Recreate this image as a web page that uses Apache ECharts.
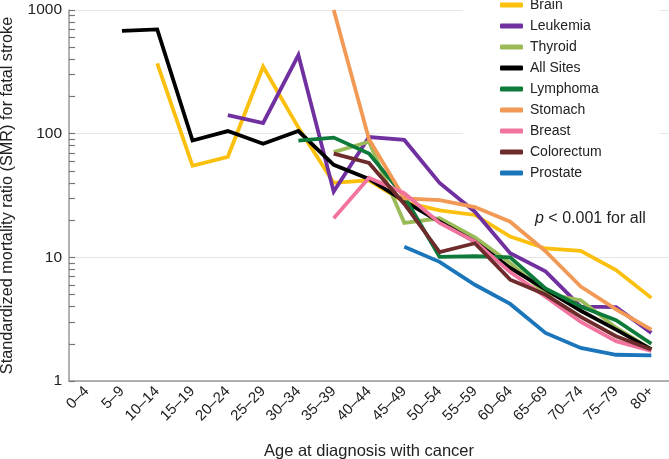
<!DOCTYPE html>
<html>
<head>
<meta charset="utf-8">
<script src="https://cdn.jsdelivr.net/npm/echarts@6/dist/echarts.min.js"></script>
<style>
  html, body { margin: 0; padding: 0; background: #fff; }
  #chart { width: 669px; height: 459px; }
</style>
</head>
<body>
<div id="chart"></div>
<script>
// 年龄分组
let ages = ['0–4', '5–9', '10–14', '15–19', '20–24', '25–29', '30–34', '35–39', '40–44',
    '45–49', '50–54', '55–59', '60–64', '65–69', '70–74', '75–79', '80+'];

// 各癌种 SMR
let brain = [null, null, 370, 55, 65, 348, 112, 40, 42, 28, 24, 22, 14.7, 11.8, 11.3, 7.9, 4.7];
let leukemia = [null, null, null, null, 141, 122, 432, 34, 94, 89, 40, 23.4, 10.8, 7.7, 4.0, 3.95, 2.45];
let thyroid = [null, null, null, null, null, null, null, 71, 86, 19, 20.7, 14.5, 9, 5.1, 4.5, 2.7, 1.8];
let allSites = [null, 679, 697, 88, 105, 83, 105, 56, 43, 28.5, 19.4, 13.4, 8.2, 5.5, 3.7, 2.6, 1.8];
let lymphoma = [null, null, null, null, null, null, 88, 93, 69, 31, 10.1, 10.2, 10, 5.6, 4.0, 3.1, 2.0];
let stomach = [null, null, null, null, null, null, null, 1000, 90, 30, 29, 25.5, 19.4, 11.2, 5.8, 3.8, 2.6];
let breast = [null, null, null, null, null, null, null, 20.7, 44, 33, 19, 13.4, 7.6, 4.8, 3.0, 2.1, 1.75];
let colorectum = [null, null, null, null, null, null, null, 69, 58, 27, 11, 13, 6.6, 5.0, 3.3, 2.3, 1.8];
let prostate = [null, null, null, null, null, null, null, null, null, 12.2, 9.2, 6.0, 4.2, 2.45, 1.85, 1.63, 1.61];

let seriesNames = ['Brain', 'Leukemia', 'Thyroid', 'All Sites', 'Lymphoma', 'Stomach', 'Breast', 'Colorectum', 'Prostate'];
let seriesData = [brain, leukemia, thyroid, allSites, lymphoma, stomach, breast, colorectum, prostate];
let colors = ['#FBBF0E', '#7030A0', '#9BBB59', '#000000', '#0E7A3A', '#F29A55', '#F2739E', '#6E2B2B', '#1A75BB'];

// y 轴刻度（主 + 次）和标签
let yTicks = [1, 2, 3, 4, 5, 6, 7, 8, 9, 10, 20, 30, 40, 50, 60, 70, 80, 90,
    100, 200, 300, 400, 500, 600, 700, 800, 900, 1000];
let yLabels = [1, 10, 100, 1000];

let font = 'Liberation Sans, Arial, sans-serif';

let series = [];
for (let i = 0; i < seriesNames.length; i++) {
    series.push({
        name: seriesNames[i],
        type: 'line',
        data: seriesData[i],
        symbol: 'none',
        connectNulls: false,
        lineStyle: { width: 3.8, color: colors[i], join: 'miter' },
        itemStyle: { color: colors[i] },
        emphasis: { disabled: true }
    });
}

let option = {
    animation: false,
    textStyle: { fontFamily: font },
    grid: { left: 69, top: 10, right: 0, bottom: 78, outerBoundsMode: 'none', containLabel: false },
    legend: {
        data: seriesNames,
        orient: 'vertical',
        left: 463,
        top: -5,
        padding: [3, 58, 3, 37],
        backgroundColor: '#fff',
        icon: 'roundRect',
        itemWidth: 23,
        itemHeight: 5,
        itemGap: 7,
        selectedMode: false,
        textStyle: { fontSize: 14, lineHeight: 14, color: '#222', fontFamily: font, padding: [0, 0, 0, 2] }
    },
    xAxis: {
        type: 'category',
        data: ages,
        boundaryGap: true,
        name: 'Age at diagnosis with cancer',
        nameLocation: 'middle',
        nameGap: 62,
        nameTextStyle: { fontSize: 16.5, color: '#222', fontFamily: font },
        axisLine: { lineStyle: { color: '#999', width: 1.5 } },
        axisTick: { show: false },
        axisLabel: { rotate: 45, fontSize: 15, color: '#222', margin: 8, interval: 0, fontFamily: font },
        splitLine: { show: false }
    },
    yAxis: [{
        type: 'log',
        logBase: 10,
        min: 1,
        max: 1000,
        name: 'Standardized mortality ratio (SMR) for fatal stroke',
        nameLocation: 'middle',
        nameGap: 53,
        nameTextStyle: { fontSize: 16.3, color: '#222', fontFamily: font },
        axisLine: { show: true, lineStyle: { color: '#999', width: 1.5 } },
        axisTick: {
            show: true, inside: true, length: 6,
            customValues: yTicks,
            lineStyle: { color: '#777', width: 1.2 }
        },
        axisLabel: {
            fontSize: 15.5, color: '#222', margin: 7, fontFamily: font,
            customValues: yLabels,
            formatter: function (v) { return String(v); }
        },
        splitLine: { show: false }
    }, {
        // 只用来画 10 的整数次幂处的网格线
        type: 'log',
        logBase: 10,
        min: 1,
        max: 1000,
        position: 'left',
        axisLine: { show: false },
        axisTick: { show: false },
        axisLabel: { show: false },
        splitLine: { show: true, lineStyle: { color: '#e6e6e6', width: 1 } }
    }],
    graphic: [{
        type: 'text',
        left: 535,
        top: 211,
        z: 100,
        style: {
            text: '{i|p} < 0.001 for all',
            fontSize: 16,
            fontFamily: font,
            fill: '#222',
            rich: {
                i: { fontStyle: 'italic', fontSize: 16, fontFamily: font, fill: '#222' }
            }
        }
    }],
    series: series
};

let chart = echarts.init(document.getElementById('chart'));
chart.setOption(option);
</script>
</body>
</html>
